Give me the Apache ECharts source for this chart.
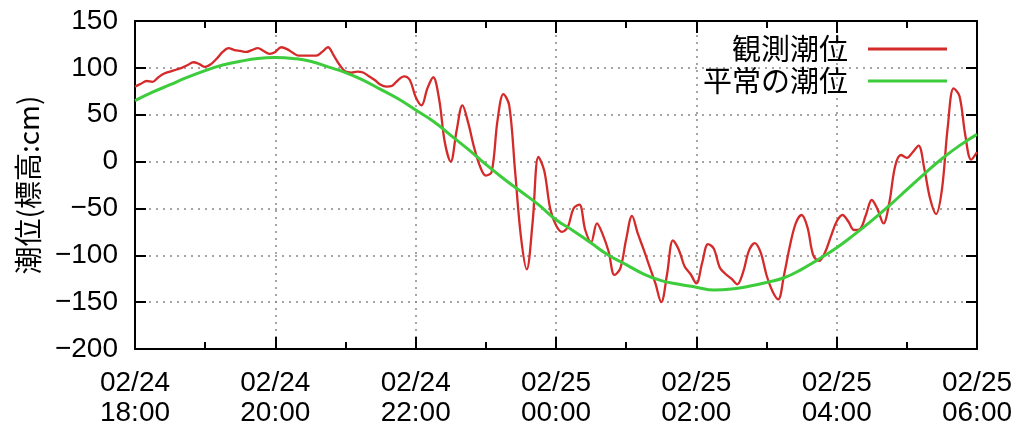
<!DOCTYPE html>
<html>
<head>
<meta charset="utf-8">
<script src="https://cdn.jsdelivr.net/npm/echarts@6/dist/echarts.min.js"></script>
<style>
html,body{margin:0;padding:0;background:#fff;}
#c{width:1023px;height:428px;}
</style>
</head>
<body>
<div id="c"></div>
<script>
// X axis: minutes after 02/24 18:00
const xTickLabels = ['02/24\n18:00','02/24\n20:00','02/24\n22:00','02/25\n00:00','02/25\n02:00','02/25\n04:00','02/25\n06:00'];
const seriesNames = ['観測潮位', '平常の潮位'];
const yAxisName = '潮位(標高:cm)';
const observedStepMin = 5;   // observed tide sampled every 5 min
const normalStepMin = 15;    // normal tide sampled every 15 min

// 観測潮位 (observed), one row per hour
const observed = [
  80,83,86,85,90,94,96,98,100,103,106,104,
  101,104,110,117,121,119,118,117,119,121,118,115,
  117,122,120,116,113,113,113,113,117,122,113,103,
  96,95,96,95,91,87,82,80,81,87,91,87,
  69,60,78,90,67,20,0,33,60,41,15,-5,
  -15,-11,44,72,60,-10,-80,-115,-65,5,-10,-50,
  -68,-75,-70,-50,-46,-73,-86,-66,-78,-96,-121,-114,
  -83,-58,-77,-94,-112,-130,-150,-120,-84,-94,-112,-120,
  -130,-108,-88,-93,-113,-120,-125,-131,-118,-95,-87,-97,
  -121,-138,-147,-121,-90,-66,-57,-70,-100,-106,-97,-80,
  -64,-57,-64,-73,-72,-57,-41,-51,-66,-44,-5,7,
  4,10,17,-8,-40,-56,-30,37,78,70,28,2,
  10
];

// 平常の潮位 (normal tide)
const normal = [
  65,74,82,90,97,103,107,110,111,110,107,101,95,87,77,67,55,
  43,28,13,-3,-18,-32,-46,-62,-74,-87,-100,-110,-120,-127,-131,-134,
  -137,-136,-133,-129,-124,-115,-104,-92,-78,-63,-47,-30,-13,3,17,29
];

const chart = echarts.init(document.getElementById('c'));
const latin = 'Liberation Sans, Arial, sans-serif';
const cjk = '"Noto Sans CJK JP", sans-serif';
const gridDots = {show:true, lineStyle:{color:'#888', width:1.5, type:[2,5]}};
const redColor = '#d42a2a';
const greenColor = '#3ccc3c';

chart.setOption({
  animation:false,
  backgroundColor:'#fff',
  grid:{left:135, right:46, top:21, bottom:77, show:false},
  legend:{
    data:[{name:seriesNames[0], icon:'rect'},{name:seriesNames[1], icon:'rect'}],
    orient:'vertical',
    align:'right',
    right:76, top:33,
    padding:0,
    itemGap:0,
    itemWidth:79, itemHeight:3,
    textStyle:{fontFamily:cjk, fontSize:29, color:'#000', lineHeight:32, padding:[0,15,0,0]}
  },
  xAxis:[{
    type:'value', min:0, max:720, interval:120, position:'bottom',
    axisLine:{show:true, onZero:false, lineStyle:{color:'#000', width:2}},
    axisTick:{show:true, inside:true, length:12, lineStyle:{color:'#000', width:2}},
    minorTick:{show:true, splitNumber:2, length:7, lineStyle:{color:'#000', width:2}},
    splitLine:gridDots,
    axisLabel:{
      fontFamily:latin, fontSize:28, color:'#000', lineHeight:30, margin:19,
      showMinLabel:true, showMaxLabel:true,
      formatter:v => xTickLabels[Math.round(v/120)]
    }
  },{
    type:'value', min:0, max:720, interval:120, position:'top',
    axisLine:{show:true, onZero:false, lineStyle:{color:'#000', width:2}},
    axisTick:{show:true, inside:true, length:12, lineStyle:{color:'#000', width:2}},
    minorTick:{show:true, splitNumber:2, length:7, lineStyle:{color:'#000', width:2}},
    splitLine:{show:false}, axisLabel:{show:false}
  }],
  yAxis:[{
    type:'value', min:-200, max:150, interval:50, position:'left',
    name:yAxisName, nameLocation:'middle', nameRotate:90, nameGap:93,
    nameTextStyle:{fontFamily:cjk, fontSize:28, color:'#000'},
    axisLine:{show:true, onZero:false, lineStyle:{color:'#000', width:2}},
    axisTick:{show:true, inside:true, length:11, lineStyle:{color:'#000', width:2}},
    splitLine:gridDots,
    axisLabel:{fontFamily:latin, fontSize:28, color:'#000', margin:17,
      formatter:v => String(v).replace('-', '\u2212')}
  },{
    type:'value', min:-200, max:150, interval:50, position:'right',
    axisLine:{show:true, onZero:false, lineStyle:{color:'#000', width:2}},
    axisTick:{show:true, inside:true, length:11, lineStyle:{color:'#000', width:2}},
    splitLine:{show:false}, axisLabel:{show:false}
  }],
  series:[{
    name:seriesNames[0], type:'line', xAxisIndex:0, yAxisIndex:0,
    data:observed.map((v,i)=>[i*observedStepMin, v]),
    showSymbol:false, symbol:'none', smooth:0.35,
    lineStyle:{color:redColor, width:2.3},
    itemStyle:{color:redColor}, z:3
  },{
    name:seriesNames[1], type:'line', xAxisIndex:0, yAxisIndex:0,
    data:normal.map((v,i)=>[i*normalStepMin, v]),
    showSymbol:false, symbol:'none', smooth:true,
    lineStyle:{color:greenColor, width:3},
    itemStyle:{color:greenColor}, z:4
  }]
});
</script>
</body>
</html>
